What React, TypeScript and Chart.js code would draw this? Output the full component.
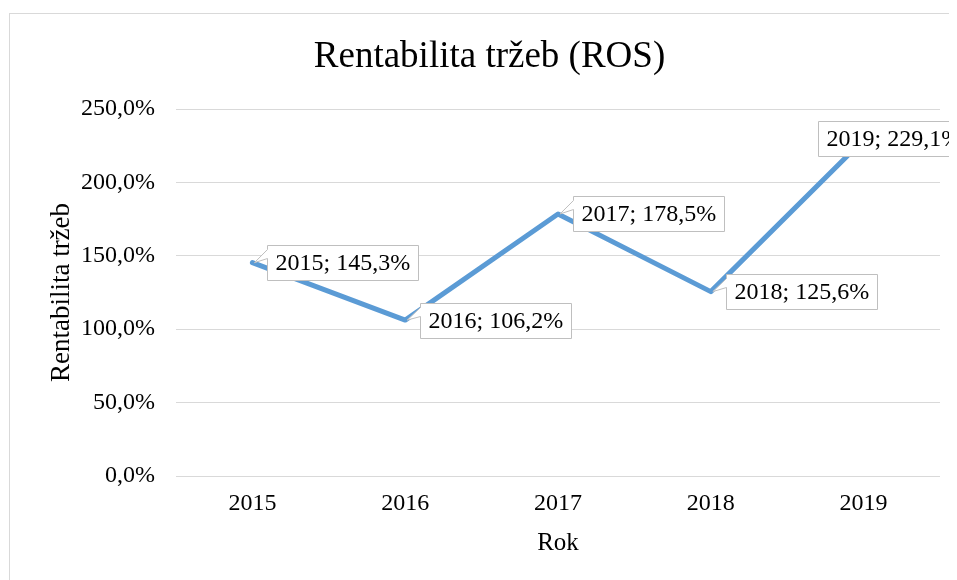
import React, { useEffect, useRef } from "react";
import { Chart, registerables } from "chart.js";

Chart.register(...registerables);

const categories = ["2015", "2016", "2017", "2018", "2019"];
const rosValues = [145.3, 106.2, 178.5, 125.6, 229.1];
const yMin = 0;
const yMax = 250;
const yStep = 50;

const chartTitle = "Rentabilita tržeb (ROS)";
const yTitle = "Rentabilita tržeb";
const xTitle = "Rok";

const FONT = '"Liberation Serif", "Times New Roman", serif';
const LINE_COLOR = "#5B9BD5";
const GRID_COLOR = "#d9d9d9";

const fmt = (v: number) => v.toFixed(1).replace(".", ",") + "%";

const outerBorder = {
  id: "outerBorder",
  beforeDraw(chart: any) {
    const ctx = chart.ctx;
    ctx.save();
    ctx.fillStyle = "#ffffff";
    ctx.fillRect(0, 0, chart.width, chart.height);
    ctx.strokeStyle = GRID_COLOR;
    ctx.lineWidth = 1;
    ctx.strokeRect(1.5, 5.5, chart.width + 20, chart.height + 20);
    ctx.restore();
  },
};

const calloutLabels = {
  id: "calloutLabels",
  afterDatasetsDraw(chart: any) {
    const ctx = chart.ctx;
    const meta = chart.getDatasetMeta(0);
    const n = meta.data.length;
    ctx.save();
    ctx.font = `24px ${FONT}`;
    meta.data.forEach((pt: any, i: number) => {
      const text = `${categories[i]}; ${fmt(rosValues[i])}`;
      const w = ctx.measureText(text).width + 16;
      const h = 35;
      const last = i === n - 1;
      const left = last ? pt.x - 46 : pt.x + 15;
      const top = last ? pt.y - h / 2 - 1 : pt.y - h / 2;
      const L = Math.round(left) + 0.5;
      const T = Math.round(top) + 0.5;
      const R = L + Math.round(w);
      const B = T + h;
      ctx.beginPath();
      ctx.moveTo(L, T);
      ctx.lineTo(R, T);
      ctx.lineTo(R, B);
      ctx.lineTo(L, B);
      if (!last) {
        ctx.lineTo(L, T + 13);
        ctx.lineTo(pt.x + 2, pt.y);
        ctx.lineTo(L, T + 4);
      }
      ctx.closePath();
      ctx.fillStyle = "#ffffff";
      ctx.fill();
      ctx.strokeStyle = "#bfbfbf";
      ctx.lineWidth = 1;
      ctx.stroke();
      ctx.fillStyle = "#000000";
      ctx.textBaseline = "middle";
      ctx.textAlign = "left";
      ctx.fillText(text, L + 8, T + h / 2 + 1);
    });
    ctx.restore();
  },
};

export default function App() {
  const ref = useRef<HTMLCanvasElement | null>(null);

  useEffect(() => {
    if (!ref.current) return;
    const chart = new Chart(ref.current, {
      type: "line",
      data: {
        labels: categories,
        datasets: [
          {
            label: yTitle,
            data: rosValues,
            borderColor: LINE_COLOR,
            backgroundColor: LINE_COLOR,
            borderWidth: 5,
            pointRadius: 0,
            pointHoverRadius: 0,
            tension: 0,
            borderJoinStyle: "round",
            borderCapStyle: "round",
          },
        ],
      },
      options: {
        animation: false,
        responsive: true,
        maintainAspectRatio: false,
        layout: { padding: { top: 5, left: 31, right: 17, bottom: 0 } },
        plugins: {
          legend: { display: false },
          tooltip: { enabled: false },
          title: {
            display: true,
            text: chartTitle,
            color: "#000000",
            font: { family: FONT, size: 37, weight: "normal" },
            padding: { top: 21.8, bottom: 29.8 },
          },
        },
        scales: {
          x: {
            offset: true,
            grid: { display: false, drawTicks: false },
            border: { display: false },
            ticks: {
              color: "#000000",
              font: { family: FONT, size: 24 },
              padding: 13,
              maxRotation: 0,
            },
            title: {
              display: true,
              text: xTitle,
              color: "#000000",
              font: { family: FONT, size: 25 },
              padding: { top: 0, bottom: 22 },
            },
            afterFit: (s: any) => {
              s.height = 104;
            },
          },
          y: {
            min: yMin,
            max: yMax,
            grid: { color: GRID_COLOR, lineWidth: 1, drawTicks: false },
            border: { display: false },
            ticks: {
              stepSize: yStep,
              color: "#000000",
              font: { family: FONT, size: 24 },
              padding: 21,
              callback: (v: any) => fmt(Number(v)),
            },
            title: {
              display: true,
              text: yTitle,
              color: "#000000",
              font: { family: FONT, size: 27 },
              padding: { top: 7, bottom: 0 },
            },
            afterFit: (s: any) => {
              s.width = 137;
            },
          },
        },
      },
      plugins: [outerBorder, calloutLabels],
    });
    return () => chart.destroy();
  }, []);

  return (
    <div style={{ width: 949, height: 572, position: "relative" }}>
      <canvas ref={ref} />
    </div>
  );
}
